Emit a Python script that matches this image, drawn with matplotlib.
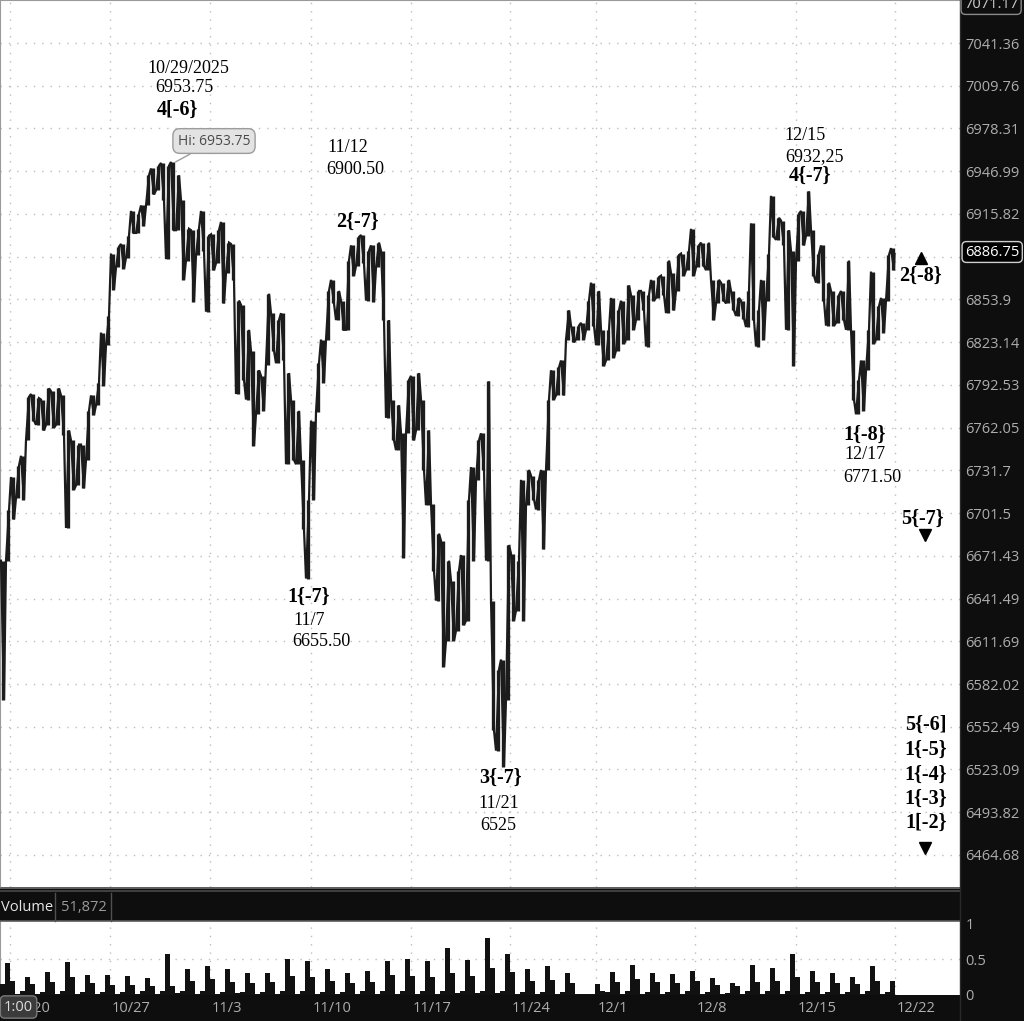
import numpy as np
import matplotlib
matplotlib.use('Agg')
import matplotlib.pyplot as plt
from matplotlib.ticker import FixedLocator, FixedFormatter, NullLocator
from matplotlib.lines import Line2D
from matplotlib.patches import Rectangle

# /ES hourly, 10/17 - 12/19/2025; one slot = roughly a quarter of a session
hi = [6668, 6704, 6727, 6735, 6742, 6784, 6786, 6783, 6782, 6790,
      6788, 6790, 6785, 6760, 6753, 6750, 6750, 6774, 6785, 6794,
      6830, 6842, 6887, 6892, 6894, 6900, 6918, 6916, 6922, 6944,
      6949, 6951, 6953, 6951, 6953.75, 6944, 6926, 6905, 6904, 6905,
      6918, 6900, 6901, 6904, 6910, 6895, 6894, 6853, 6850, 6832,
      6817, 6803, 6799, 6858, 6844, 6839, 6844, 6801, 6782, 6774,
      6739, 6711, 6767, 6808, 6825, 6860, 6868, 6860, 6853, 6882,
      6893, 6899, 6900.5, 6889, 6893, 6895, 6889, 6839, 6782, 6778,
      6758, 6796, 6799, 6801, 6782, 6760, 6708, 6687, 6682, 6668,
      6654, 6661, 6672, 6711, 6734, 6753, 6758, 6795, 6640, 6592,
      6599, 6679, 6673, 6668, 6725, 6732, 6728, 6725, 6732, 6782,
      6803, 6805, 6810, 6846, 6835, 6835, 6837, 6853, 6866, 6860,
      6832, 6832, 6855, 6846, 6853, 6864, 6857, 6860, 6860, 6857,
      6868, 6870, 6871, 6882, 6873, 6886, 6887, 6889, 6905, 6893,
      6895, 6895, 6868, 6868, 6866, 6868, 6860, 6855, 6853, 6860,
      6909, 6846, 6868, 6887, 6929, 6913, 6911, 6904, 6889, 6916,
      6918, 6932.25, 6904, 6887, 6893, 6866, 6860, 6857, 6860, 6882,
      6832, 6796, 6810, 6832, 6874, 6849, 6855, 6886, 6891]
lo = [6571, 6668, 6697, 6712, 6711, 6753, 6767, 6764, 6760, 6764,
      6762, 6764, 6757, 6691, 6718, 6721, 6719, 6739, 6771, 6778,
      6792, 6821, 6861, 6877, 6876, 6884, 6902, 6902, 6907, 6922,
      6930, 6933, 6926, 6883, 6904, 6904, 6868, 6882, 6852, 6886,
      6889, 6845, 6875, 6880, 6851, 6873, 6868, 6786, 6796, 6782,
      6749, 6772, 6774, 6807, 6817, 6808, 6810, 6736, 6739, 6736,
      6690, 6655.5, 6711, 6773, 6794, 6825, 6851, 6839, 6832, 6832,
      6871, 6878, 6880, 6853, 6852, 6877, 6839, 6769, 6753, 6746,
      6670, 6758, 6753, 6760, 6732, 6707, 6661, 6640, 6594, 6612,
      6612, 6619, 6623, 6626, 6668, 6725, 6732, 6668, 6550, 6536,
      6525, 6571, 6626, 6633, 6626, 6707, 6711, 6704, 6676, 6732,
      6782, 6785, 6785, 6825, 6823, 6825, 6825, 6832, 6835, 6821,
      6806, 6810, 6812, 6817, 6822, 6825, 6832, 6839, 6846, 6820,
      6853, 6855, 6857, 6844, 6846, 6860, 6871, 6875, 6871, 6877,
      6878, 6875, 6839, 6851, 6853, 6851, 6846, 6842, 6840, 6834,
      6839, 6820, 6825, 6853, 6899, 6897, 6893, 6832, 6806, 6882,
      6893, 6900, 6871, 6866, 6853, 6835, 6835, 6837, 6839, 6832,
      6782, 6771.5, 6774, 6803, 6822, 6825, 6830, 6853, 6875]
last = 6886.75

vol = [0.15, 0.44, 0.20, 0.02, 0.05, 0.25, 0.15, 0.02, 0.04, 0.32,
       0.18, 0.02, 0.05, 0.46, 0.25, 0.02, 0.04, 0.28, 0.16, 0.02,
       0.04, 0.28, 0.14, 0.02, 0.04, 0.26, 0.14, 0.02, 0.05, 0.24,
       0.13, 0.02, 0.06, 0.57, 0.12, 0.03, 0.05, 0.36, 0.20, 0.02,
       0.05, 0.40, 0.22, 0.02, 0.04, 0.36, 0.18, 0.03, 0.04, 0.31,
       0.17, 0.02, 0.04, 0.31, 0.18, 0.02, 0.05, 0.50, 0.27, 0.02,
       0.05, 0.47, 0.25, 0.02, 0.04, 0.36, 0.20, 0.02, 0.04, 0.31,
       0.16, 0.02, 0.05, 0.34, 0.18, 0.02, 0.05, 0.47, 0.28, 0.02,
       0.05, 0.50, 0.27, 0.02, 0.05, 0.47, 0.25, 0.02, 0.06, 0.65,
       0.30, 0.03, 0.05, 0.49, 0.27, 0.03, 0.06, 0.79, 0.38, 0.03,
       0.06, 0.57, 0.32, 0.02, 0.04, 0.36, 0.19, 0.02, 0.04, 0.40,
       0.21, 0.02, 0.04, 0.31, 0.17, 0.02, 0.01, 0.01, 0.02, 0.15,
       0.05, 0.04, 0.32, 0.18, 0.02, 0.05, 0.41, 0.22, 0.02, 0.04,
       0.31, 0.18, 0.02, 0.04, 0.29, 0.17, 0.02, 0.05, 0.34, 0.20,
       0.02, 0.04, 0.24, 0.14, 0.02, 0.03, 0.17, 0.12, 0.02, 0.05,
       0.42, 0.18, 0.02, 0.05, 0.37, 0.20, 0.02, 0.06, 0.57, 0.25,
       0.02, 0.04, 0.33, 0.18, 0.02, 0.04, 0.30, 0.16, 0.02, 0.04,
       0.25, 0.15, 0.02, 0.05, 0.40, 0.20, 0.02, 0.04, 0.20]

price_ticks = [7041.36, 7009.76, 6978.31, 6946.99, 6915.82, 6884.8, 6853.9,
               6823.14, 6792.53, 6762.05, 6731.7, 6701.5, 6671.43, 6641.49,
               6611.69, 6582.02, 6552.49, 6523.09, 6493.82, 6464.68]
week_labels = ['10/20', '10/27', '11/3', '11/10', '11/17', '11/24', '12/1', '12/8', '12/15', '12/22']
week_start = [1.5, 21.5, 41.5, 61.7, 81.7, 101.5, 118.7, 138.5, 158.7, 178.5]

dark = '#0e0e0e'
axis_gray = '#adadad'
grid_kw = dict(color='#bdbdbd', linestyle=(0, (1, 5)), linewidth=1.0)
sans = ['Open Sans', 'DejaVu Sans']
serif = ['Liberation Serif', 'DejaVu Serif']

W, H = 1024, 1021
fig = plt.figure(figsize=(W / 100, H / 100), dpi=100, facecolor=dark)

def fx(px):
    return px / W

def fy(py):
    return 1 - py / H

# ---- price pane
ax = fig.add_axes([0, fy(887), fx(960), 887 / H], facecolor='white')
ax.set_yscale('log')
ax.set_xlim(-0.5, 191.5)
ax.set_ylim(6442.9, 7073.3)

n = len(hi)
idx = np.arange(n)
ax.vlines(idx, lo, hi, color='#1c1c1c', linewidth=2.4, zorder=3)
xs, ys = [], []
for i in range(n):
    if i % 2 == 0:
        ys += [hi[i], lo[i]]
    else:
        ys += [lo[i], hi[i]]
    xs += [i - 0.3, i + 0.3]
xs.append(n - 1 + 0.4)
ys.append(last)
ax.plot(xs, ys, color='#1c1c1c', linewidth=1.6, solid_joinstyle='miter', zorder=3)

for p in price_ticks:
    ax.axhline(p, **grid_kw, zorder=1)
for w in week_start:
    ax.axvline(w, **grid_kw, zorder=1)

ax.yaxis.tick_right()
ax.yaxis.set_major_locator(FixedLocator(price_ticks))
ax.yaxis.set_major_formatter(FixedFormatter([f'{p:g}' for p in price_ticks]))
ax.yaxis.set_minor_locator(NullLocator())
ax.tick_params(axis='y', length=0, pad=4, labelcolor=axis_gray, labelsize=10.5)
for lab in ax.get_yticklabels():
    lab.set_family(sans)
ax.set_xticks([])
for s in ['top', 'left']:
    ax.spines[s].set_color('#9a9a9a')
ax.spines['right'].set_visible(False)
ax.spines['bottom'].set_visible(False)

# wave labels
def note(x, y, s, bold=False, size=13):
    ax.text(x, y, s, ha='center', va='center', family=serif,
            fontweight='bold' if bold else 'normal', fontsize=14.5 if bold else size,
            color='black', zorder=6)

note(37.1, 7022.8, '10/29/2025')
note(36.3, 7008.1, '6953.75')
note(34.9, 6991.9, '4[-6}', bold=True)
note(69.1, 6964.0, '11/12')
note(70.5, 6948.0, '6900.50')
note(70.9, 6910.0, '2{-7}', bold=True)
note(160.5, 6973.5, '12/15')
note(162.3, 6957.4, '6932,25')
note(161.5, 6943.5, '4{-7}', bold=True)
note(183.5, 6870.8, '2{-8}', bold=True)
note(172.5, 6757.0, '1{-8}', bold=True)
note(172.5, 6742.8, '12/17')
note(173.9, 6726.4, '6771.50')
note(183.9, 6697.3, '5{-7}', bold=True)
note(61.3, 6642.5, '1{-7}', bold=True)
note(61.3, 6626.5, '11/7')
note(63.7, 6611.4, '6655.50')
note(99.7, 6517.6, '3{-7}', bold=True)
note(99.3, 6499.5, '11/21')
note(99.1, 6484.9, '6525')
for y, s in zip([6553.6, 6536.6, 6519.6, 6502.8, 6486.2],
                ['5{-6]', '1{-5}', '1{-4}', '1{-3}', '1[-2}']):
    note(184.7, y, s, bold=True)

ax.plot([183.7], [6883.8], marker='^', markersize=8, color='black', zorder=6)
ax.plot([184.5], [6685.9], marker='v', markersize=8, color='black', zorder=6)
ax.plot([184.5], [6469.4], marker='v', markersize=8, color='black', zorder=6)

ax.annotate('Hi: 6953.75', xy=(34.6, 6953.75), xytext=(42.3, 6969.1),
            ha='center', va='center', family=sans, fontsize=10, color='#4a4a4a',
            bbox=dict(boxstyle='round,pad=0.35,rounding_size=0.5', fc='#e3e3e3', ec='#9c9c9c', lw=1),
            arrowprops=dict(arrowstyle='-', color='#9c9c9c', lw=1, shrinkA=0, shrinkB=0),
            zorder=7)

# ---- volume pane
axv = fig.add_axes([0, fy(995), fx(960), 74 / H], facecolor='white')
axv.bar(np.arange(len(vol)), vol, width=0.9, color='#111111', zorder=3)
axv.set_xlim(-0.5, 191.5)
axv.set_ylim(0, 1.028)
axv.axhline(0.5, **grid_kw, zorder=1)
for w in week_start:
    axv.axvline(w, **grid_kw, zorder=1)
axv.yaxis.tick_right()
axv.set_yticks([0, 0.5, 1])
axv.set_yticklabels(['0', '0.5', '1'])
axv.tick_params(axis='y', length=0, pad=4, labelcolor=axis_gray, labelsize=10.5)
for lab in axv.get_yticklabels():
    lab.set_family(sans)
axv.set_xticks([])
for s in axv.spines.values():
    s.set_visible(False)
axv.spines['left'].set_visible(True)
axv.spines['left'].set_color('#9a9a9a')

# ---- chrome: divider, volume header, date strip
for py, c in [(888, '#707070'), (891, '#4a4a4a'), (921, '#5a5a5a')]:
    fig.add_artist(Line2D([0, fx(960)], [fy(py), fy(py)], color=c, lw=1.2))
for px in [55, 111]:
    fig.add_artist(Line2D([fx(px), fx(px)], [fy(893), fy(921)], color='#505050', lw=1))
fig.text(fx(1), fy(907), 'Volume', color='#e6e6e6', fontsize=10.5, family=sans, va='center')
fig.text(fx(61), fy(907), '51,872', color='#9a9a9a', fontsize=10.5, family=sans, va='center')
fig.add_artist(Rectangle((0, 0), fx(960), fy(995), facecolor=dark, edgecolor='none', zorder=4))
fig.add_artist(Line2D([fx(960), fx(960)], [0, 1], color='#2a2a2a', lw=1, zorder=5))

for w, lab in zip(week_start, week_labels):
    xpx = (w + 0.5) * 5 + 2
    fig.text(fx(xpx), fy(1008), lab, color=axis_gray, fontsize=10.5, family=sans,
             va='center', ha='left', zorder=6)
fig.text(fx(4), fy(1007), '1:00', color='#dddddd', fontsize=10.5, family=sans, va='center',
         ha='left', zorder=7,
         bbox=dict(boxstyle='round,pad=0.25,rounding_size=0.3', fc='#3b3b3b', ec='#7a7a7a', lw=1))

# boxed labels on the price axis
fig.text(fx(964), fy(4), '7071.17', color='#cfcfcf', fontsize=10.5, family=sans, va='center',
         ha='left', zorder=7,
         bbox=dict(boxstyle='round,pad=0.2,rounding_size=0.3', fc=dark, ec='#8a8a8a', lw=1))
fig.text(fx(965), fy(252), f'{last:.2f}', color='white', fontsize=10.5, family=sans, va='center',
         ha='left', zorder=7,
         bbox=dict(boxstyle='round,pad=0.2,rounding_size=0.3', fc='black', ec='#d0d0d0', lw=1))

fig.savefig('out.png', dpi=100, facecolor=fig.get_facecolor())
